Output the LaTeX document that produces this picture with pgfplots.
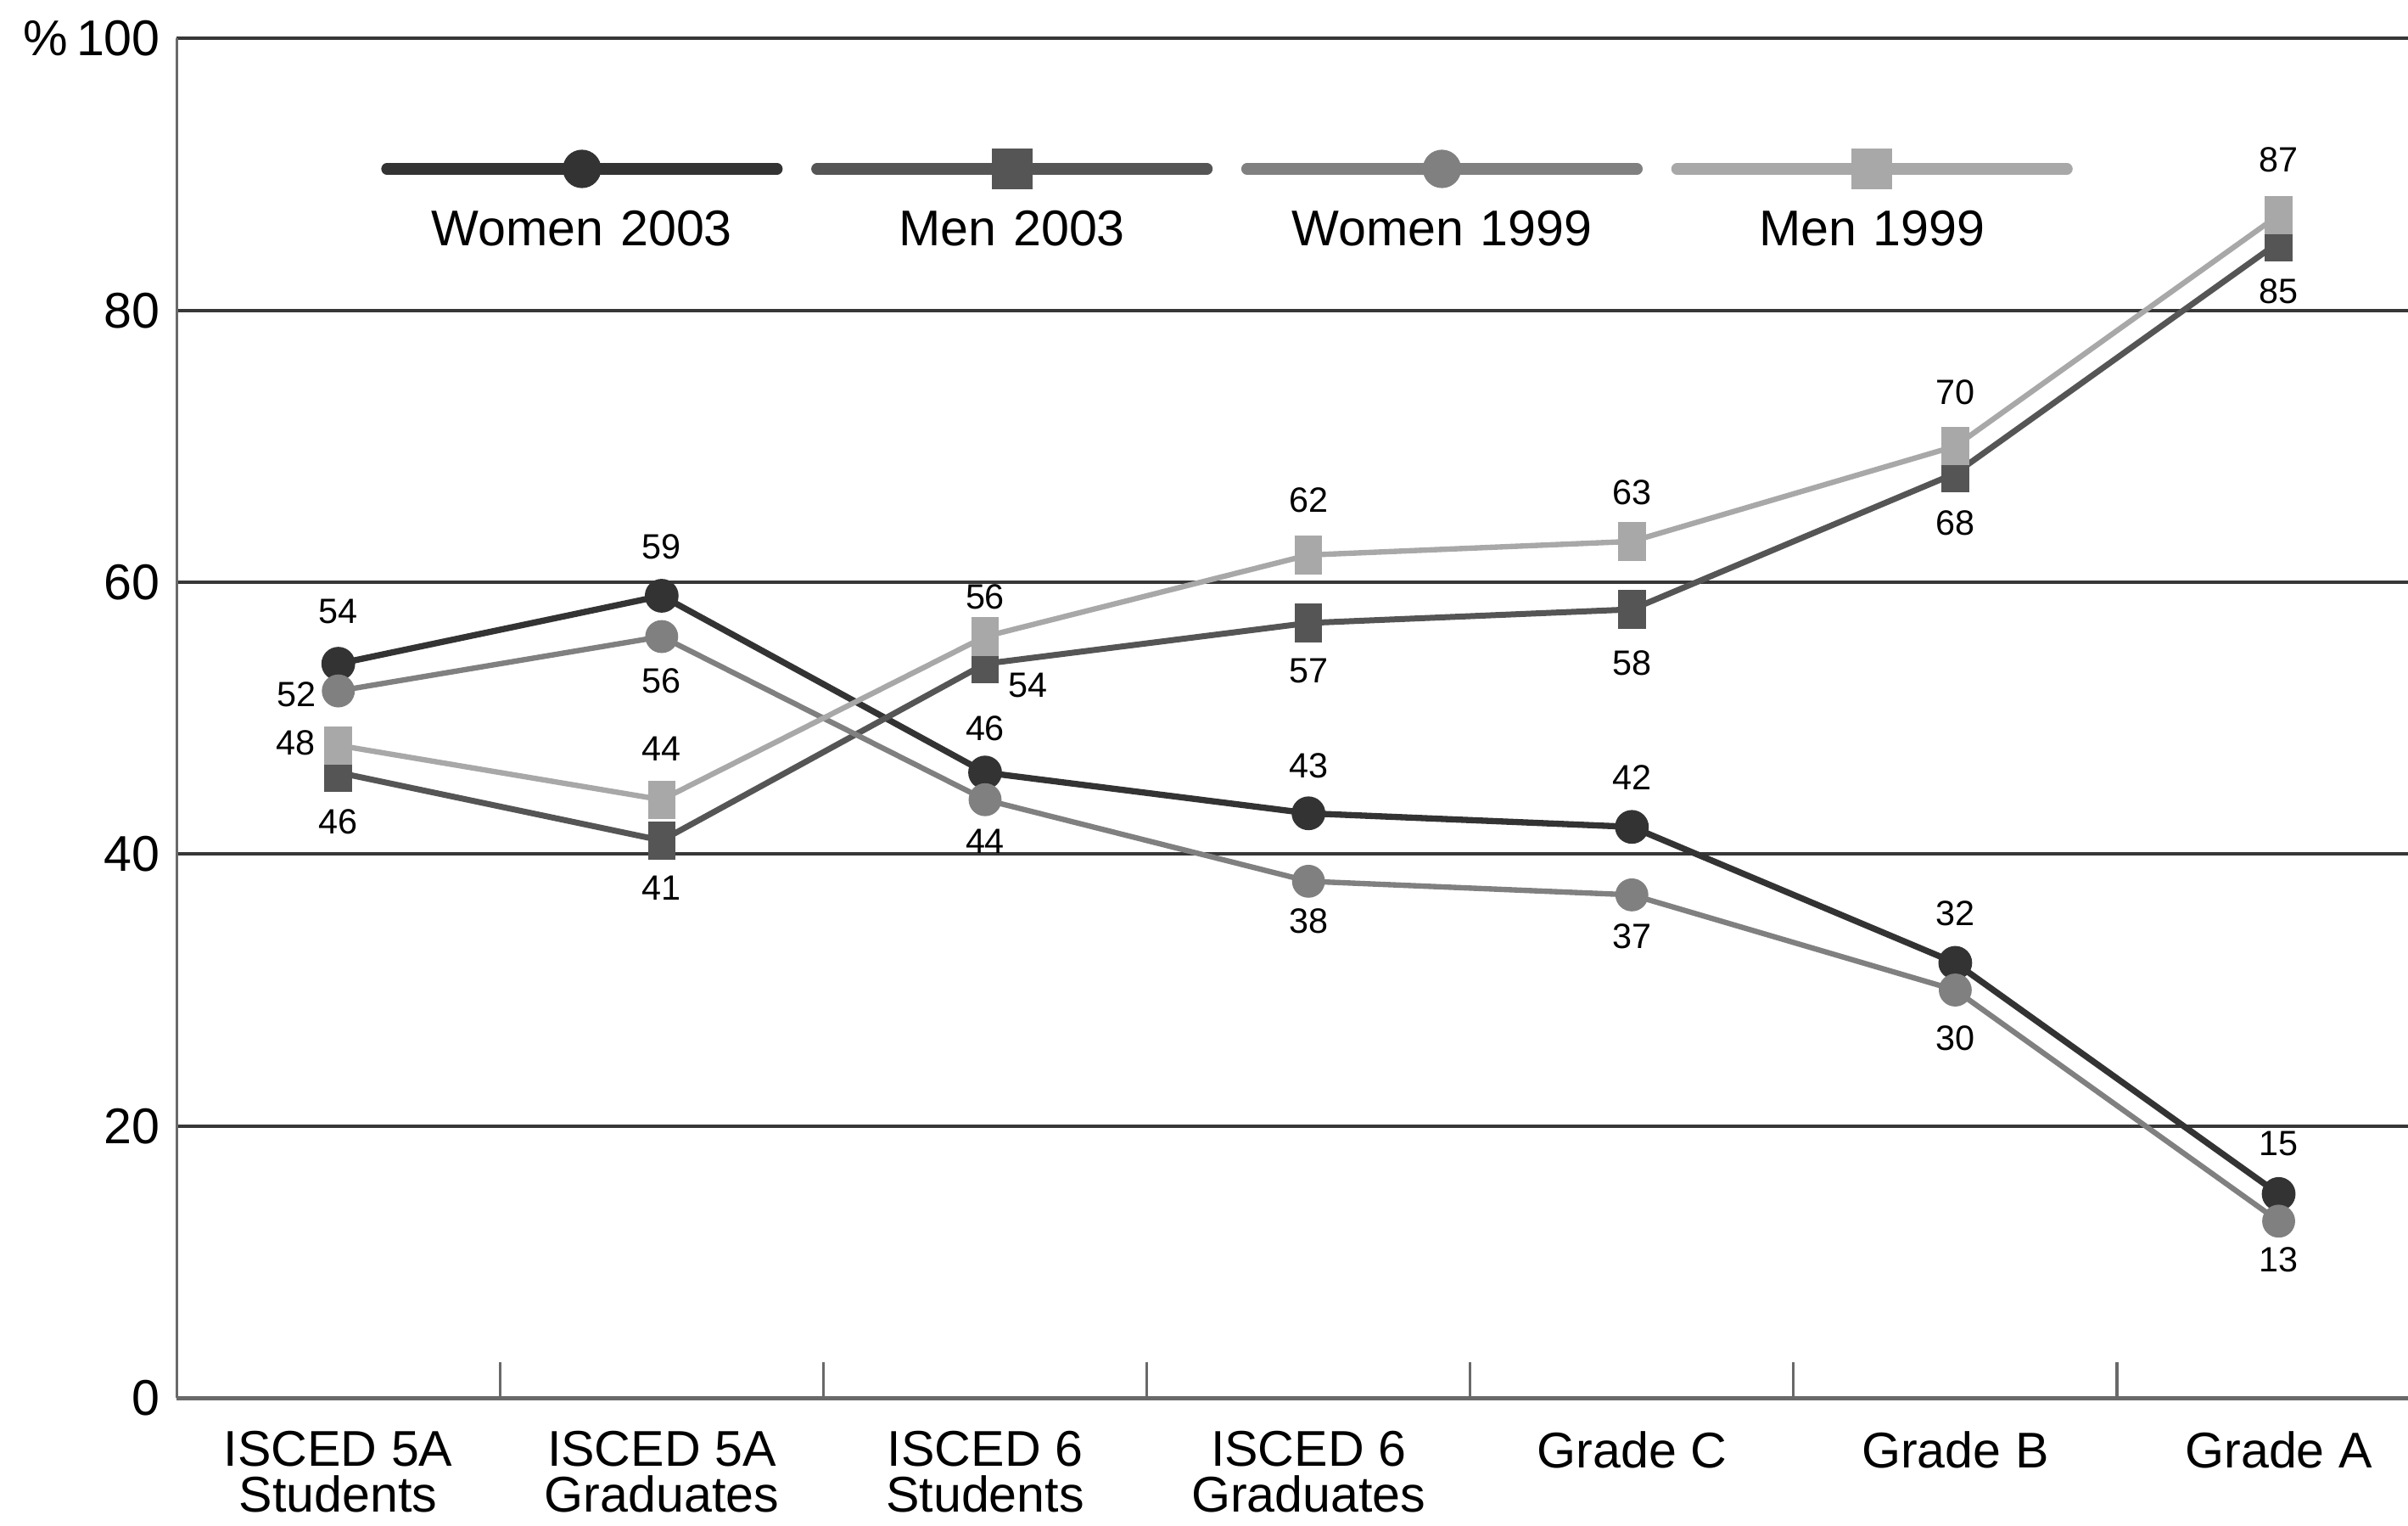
\documentclass[border=0pt]{standalone}
\usepackage{fontspec}
\setmainfont{Liberation Sans}
\usepackage{pgfplots}
\usepackage{pgfplotstable}
\pgfplotsset{compat=1.18}

\definecolor{cwa}{RGB}{51,51,51}
\definecolor{cma}{RGB}{85,85,85}
\definecolor{cwb}{RGB}{128,128,128}
\definecolor{cmb}{RGB}{168,168,168}
\definecolor{cgrid}{RGB}{55,55,55}
\definecolor{caxis}{RGB}{105,105,105}

% marks: tall squares in the plot, plain squares/dots in the legend
\pgfdeclareplotmark{tallsq}{\pgfpathrectangle{\pgfpoint{-0.09cm}{-0.125cm}}{\pgfpoint{0.18cm}{0.25cm}}\pgfusepathqfill}
\pgfdeclareplotmark{legsq}{\pgfpathrectangle{\pgfpoint{-0.132cm}{-0.132cm}}{\pgfpoint{0.264cm}{0.264cm}}\pgfusepathqfill}
\pgfdeclareplotmark{legdot}{\pgfpathcircle{\pgfpointorigin}{0.125cm}\pgfusepathqfill}

\pgfplotsset{
  legwith/.style={legend image code/.code={%
    \begin{scope}[overlay]
      \draw[##1,mark=none,line width=2.1pt,line cap=round] (0.04cm,0.385cm) -- (2.58cm,0.385cm);
      \draw[##1,mark=#1] plot coordinates {(1.31cm,0.385cm)};
    \end{scope}}},
  labelled/.style={
    nodes near coords,
    point meta=explicit symbolic,
    visualization depends on={\thisrow{dx} \as \dx},
    visualization depends on={\thisrow{dy} \as \dy},
    every node near coord/.append style={xshift=\dx cm, yshift=\dy cm, anchor=center,
      inner sep=0pt, text depth=0pt, color=black, font=\fontsize{6.5}{6.5}\selectfont},
  },
}

\pgfplotstableread{
x y dx dy
0 54 0 0.34
1 59 0 0.32
2 46 0 0.29
3 43 0 0.31
4 42 0 0.32
5 32 0 0.32
6 15 0 0.33
}\womenthree

\pgfplotstableread{
x y dx dy
0 46 0 -0.32
1 41 0 -0.31
2 54 0.28 -0.14
3 57 0 -0.31
4 58 0 -0.35
5 68 0 -0.32
6 85 0 -0.32
}\menthree

\pgfplotstableread{
x y dx dy
0 52 -0.27 -0.02
1 56 0 -0.29
2 44 0 -0.27
3 38 0 -0.26
4 37 0 -0.27
5 30 0 -0.31
6 13 0 -0.25
}\womennine

\pgfplotstableread{
x y dx dy
0 48 -0.28 0.02
1 44 0 0.33
2 56 0 0.26
3 62 0 0.36
4 63 0 0.32
5 70 0 0.35
6 87 0 0.36
}\mennine

\begin{document}
\begin{tikzpicture}
\begin{axis}[
name=ax,
scale only axis,
width=14.53cm,
height=8.85cm,
xmin=-0.5, xmax=6.4,
ymin=0, ymax=100,
axis x line=bottom,
axis y line=left,
x axis line style={-, draw=caxis, line width=0.8pt},
y axis line style={-, draw=caxis, line width=0.5pt},
xtick={0,...,6},
xticklabels={{ISCED 5A\\Students},{ISCED 5A\\Graduates},{ISCED 6\\Students},{ISCED 6\\Graduates},{Grade C},{Grade B},{Grade A}},
minor xtick={0.5,1.5,...,5.5},
tick align=inside,
major tick length=0pt,
minor tick length=0.23cm,
minor tick style={draw=caxis, line width=0.5pt},
ytick={0,20,40,60,80,100},
yticklabels={0,20,40,60,80,{\%\,100}},
ymajorgrids,
grid style={draw=cgrid, line width=0.6pt},
/pgf/number format/assume math mode=true,
x tick label style={align=center, font=\fontsize{9.3}{8.5}\selectfont, inner sep=0pt, yshift=-0.21cm},
y tick label style={font=\fontsize{9.3}{9.3}\selectfont, inner sep=0pt, xshift=-0.1cm, text depth=0pt},
legend columns=4,
legend cell align=left,
legend style={at={(0.0915,0.8605)}, anchor=west, draw=none, fill=none,
  inner sep=0pt, outer sep=0pt,
  nodes={inner sep=0pt, text width=2.62cm, align=center, text depth=0pt,
    font=\fontsize{9.3}{9.3}\selectfont},
  /tikz/every odd column/.style={column sep=0pt},
  /tikz/every even column/.style={column sep=0.18cm}},
]

\addplot[color=cwa, line width=1.15pt, mark=*, mark size=2.55pt, mark options={draw=none, fill=cwa}, legwith=legdot, labelled]
  table[x=x, y=y, meta=y]{\womenthree};
\addlegendentry{Women 2003}

\addplot[color=cma, line width=1.1pt, mark=tallsq, mark options={fill=cma}, legwith=legsq, labelled]
  table[x=x, y=y, meta=y]{\menthree};
\addlegendentry{Men 2003}

\addplot[color=cwb, line width=1.0pt, mark=*, mark size=2.55pt, mark options={draw=none, fill=cwb}, legwith=legdot, labelled]
  table[x=x, y=y, meta=y]{\womennine};
\addlegendentry{Women 1999}

\addplot[color=cmb, line width=1.0pt, mark=tallsq, mark options={fill=cmb}, legwith=legsq, labelled]
  table[x=x, y=y, meta=y]{\mennine};
\addlegendentry{Men 1999}

\end{axis}
\pgfresetboundingbox
\path ([shift={(-1.15cm,-0.83cm)}]ax.south west) rectangle ([shift={(0cm,0.25cm)}]ax.north east);
\end{tikzpicture}
\end{document}
